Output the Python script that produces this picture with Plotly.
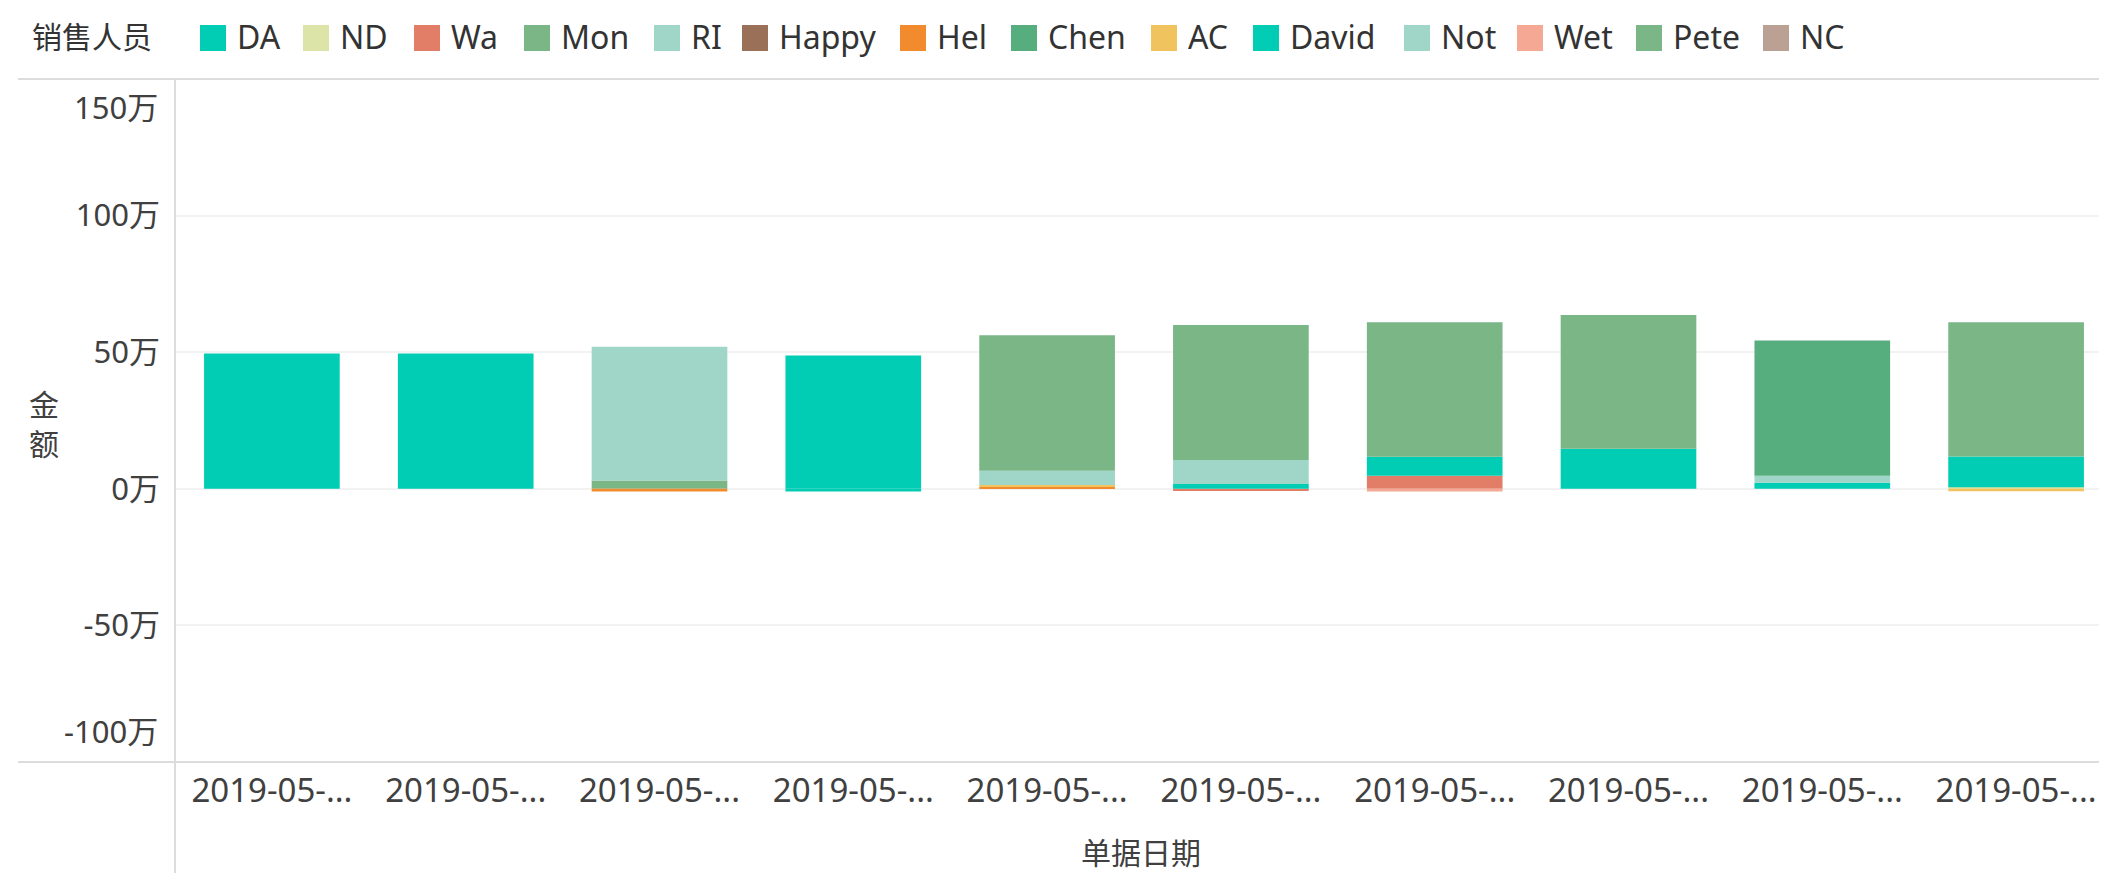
import plotly.graph_objects as go

# ---------------- data (values in 万) ----------------
x_labels = ["2019-05-..."] * 10
people = ["DA", "ND", "Wa", "Mon", "RI", "Happy", "Hel", "Chen", "AC", "David", "Not", "Wet", "Pete", "NC"]

DA    = [49.5, 49.5, 0,    48.8, 0,    0,    0,    0,    2.2,  0]
ND    = [0,    0,    0,    0,    0,    0,    0,    0,    0,    0.6]
Wa    = [0,    0,    0,    0,    0,    -0.8, 4.8,  0,    0,    0]
Mon   = [0,    0,    3.0,  0,    0,    0,    0,    0,    0,    0]
RI    = [0,    0,    49.0, 0,    0,    0,    0,    0,    2.6,  0]
Happy = [0,    0,    0,    0,    0,    0,    0,    0,    0,    0]
Hel   = [0,    0,    -1.0, 0,    0.7,  0,    0,    0,    0,    0]
Chen  = [0,    0,    0,    0,    0,    0,    0,    0,    49.5, 0]
AC    = [0,    0,    0,    0,    0.7,  0,    0,    0,    0,    -0.9]
David = [0,    0,    0,    -1.0, 0,    1.8,  6.9,  14.7, 0,    11.2]
Not   = [0,    0,    0,    0,    5.2,  8.7,  0,    0,    0,    0]
Wet   = [0,    0,    0,    0,    0,    0,    -1.0, 0,    0,    0]
Pete  = [0,    0,    0,    0,    49.6, 49.5, 49.3, 48.9, 0,    49.2]
NC    = [0,    0,    0,    0,    0,    0,    0,    0,    0,    0]

series = [DA, ND, Wa, Mon, RI, Happy, Hel, Chen, AC, David, Not, Wet, Pete, NC]
colors = ["#00CDB4", "#DDE4A8", "#E27E68", "#7AB686", "#9FD6C8", "#9A7158", "#F28B2E",
          "#56AE7F", "#F1C35F", "#00CDB4", "#9FD6C8", "#F5A994", "#7AB686", "#BBA193"]

y_tickvals = [-50, 0, 50, 100]
y_ticktext = ["-50万", "0万", "50万", "100万"]

# ---------------- layout geometry ----------------
OFF = 8                      # page body margin of the html page
W, H = 2107 - OFF, 873 - OFF
L, T = 175 - OFF, 79 - OFF
R, B = 0, 873 - 762
PW, PH = W - L - R, H - T - B
FONT = "Noto Sans, Noto Sans CJK SC, sans-serif"
TXT = "#404040"


def xp(px):
    return (px - OFF - L) / PW


def yp(py):
    return (H - B - (py - OFF)) / PH


xs = list(range(len(x_labels)))
fig = go.Figure()
for name, vals, col in zip(people, series, colors):
    fig.add_trace(go.Bar(x=xs, y=vals, name=name, marker_color=col,
                         marker_line_width=0, showlegend=False))

fig.update_layout(
    width=W, height=H,
    margin=dict(l=L, r=R, t=T, b=B),
    barmode="relative", bargap=0.30,
    plot_bgcolor="white", paper_bgcolor="white",
    font=dict(family=FONT, size=31, color=TXT),
    xaxis=dict(range=[-0.5, -0.5 + PW / 193.8], tickvals=xs, ticktext=x_labels,
               showgrid=False, zeroline=False, showline=False, ticks="",
               ticklabelstandoff=6, tickfont=dict(size=33, color=TXT)),
    yaxis=dict(range=[-100, 150], tickvals=y_tickvals, ticktext=y_ticktext,
               showgrid=True, gridcolor="#F2F2F2", gridwidth=2,
               zeroline=True, zerolinecolor="#F2F2F2", zerolinewidth=2,
               showline=False, ticks="", ticklabelstandoff=14,
               tickfont=dict(size=31, color=TXT)),
)

shapes = [
    dict(type="line", xref="paper", yref="paper", x0=xp(18), x1=1, y0=yp(79), y1=yp(79),
         line=dict(color="#DCDCDC", width=2)),
    dict(type="line", xref="paper", yref="paper", x0=xp(18), x1=1, y0=yp(762), y1=yp(762),
         line=dict(color="#DCDCDC", width=2)),
    dict(type="line", xref="paper", yref="paper", x0=xp(175), x1=xp(175), y0=yp(79), y1=yp(873),
         line=dict(color="#DCDCDC", width=2)),
]
annotations = [
    dict(text="150万", xref="paper", yref="paper", x=xp(160), y=yp(107), xanchor="right",
         yanchor="middle", showarrow=False, font=dict(size=31, color=TXT)),
    dict(text="-100万", xref="paper", yref="paper", x=xp(160), y=yp(731), xanchor="right",
         yanchor="middle", showarrow=False, font=dict(size=31, color=TXT)),
    dict(text="金<br>额", xref="paper", yref="paper", x=xp(44), y=yp(424), xanchor="center",
         yanchor="middle", showarrow=False, font=dict(size=30, color=TXT)),
    dict(text="单据日期", xref="paper", yref="paper", x=0.5, y=yp(852), xanchor="center",
         yanchor="middle", showarrow=False, font=dict(size=30, color=TXT)),
    dict(text="销售人员", xref="paper", yref="paper", x=xp(30), y=yp(36), xanchor="left",
         yanchor="middle", showarrow=False, font=dict(size=30, color="#333333")),
]

# custom legend (swatch left edges in px)
legend_x = [200, 303, 414, 524, 654, 742, 900, 1011, 1151, 1253, 1404, 1517, 1636, 1763]
for name, col, lx in zip(people, colors, legend_x):
    shapes.append(dict(type="rect", xref="paper", yref="paper",
                       x0=xp(lx), x1=xp(lx + 26), y0=yp(25), y1=yp(51),
                       fillcolor=col, line=dict(width=0)))
    annotations.append(dict(text=name, xref="paper", yref="paper", x=xp(lx + 35), y=yp(37),
                            xanchor="left", yanchor="middle", showarrow=False,
                            font=dict(size=32, color="#333333")))

fig.update_layout(shapes=shapes, annotations=annotations)
fig.write_html("out.html")
